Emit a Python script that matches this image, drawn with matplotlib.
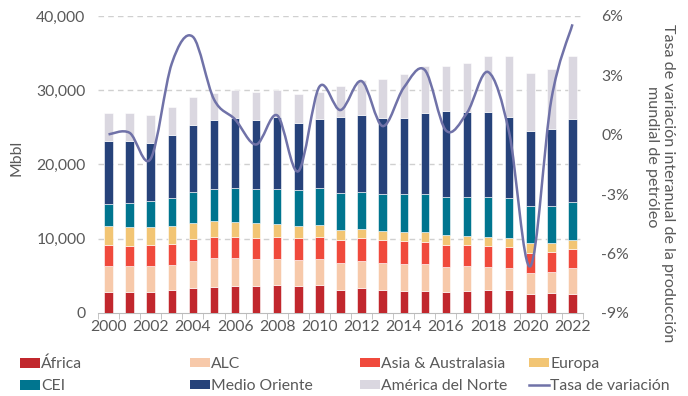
import matplotlib
matplotlib.use("Agg")
import matplotlib.pyplot as plt
import numpy as np
from matplotlib.path import Path
from matplotlib.patches import PathPatch, Patch
from matplotlib.lines import Line2D
from matplotlib.ticker import FuncFormatter

plt.rcParams['font.family'] = ['Lato', 'DejaVu Sans']
plt.rcParams['axes.unicode_minus'] = False

years = list(range(2000, 2023))
africa = [2790, 2790, 2830, 3060, 3420, 3550, 3600, 3690, 3730, 3600, 3730, 3100,
          3330, 3150, 3010, 2970, 2790, 2970, 3060, 3060, 2520, 2650, 2560]
alc = [3500, 3500, 3510, 3460, 3640, 3870, 3860, 3640, 3600, 3550, 3550, 3690,
       3680, 3640, 3600, 3590, 3410, 3320, 3190, 3050, 2920, 2880, 3460]
asia = [2830, 2790, 2830, 2830, 2870, 2870, 2830, 2830, 2870, 2920, 3010, 3010,
        3060, 3010, 3050, 3010, 2920, 2830, 2740, 2740, 2690, 2650, 2650]
europa = [2610, 2560, 2470, 2340, 2250, 2160, 2020, 1930, 1840, 1660, 1620, 1440,
          1300, 1260, 1260, 1350, 1350, 1310, 1300, 1310, 1310, 1260, 1170]
cei = [2970, 3190, 3460, 3820, 4090, 4270, 4500, 4580, 4680, 4850, 4940, 4980,
       4940, 4980, 5040, 5120, 5170, 5210, 5350, 5350, 4990, 5030, 5130]
medio = [8400, 8320, 7730, 8400, 8990, 9260, 9390, 9310, 9620, 9040, 9310, 10160,
         10390, 10250, 10330, 10880, 11510, 11370, 11460, 10920, 10060, 10290, 11100]
norte = [3820, 3770, 3820, 3780, 3820, 3640, 3780, 3730, 3680, 3820, 3590, 4140,
         4630, 5170, 5840, 6290, 6150, 6610, 7510, 8180, 7870, 8050, 8540]
tasa = [0.02, 0.1, -1.21, 3.6, 4.95, 1.79, 0.78, -0.49, 0.98, -1.84, 2.43, 1.25,
        2.71, 0.44, 2.38, 3.27, 0.22, 1.11, 3.17, 0.1, -6.64, 1.79, 5.58]

series = [
    ("África", africa, "#C1272D"),
    ("ALC", alc, "#F7C9AA"),
    ("Asia & Australasia", asia, "#F04A3C"),
    ("Europa", europa, "#F2C574"),
    ("CEI", cei, "#00758F"),
    ("Medio Oriente", medio, "#26427A"),
    ("América del Norte", norte, "#DAD7E0"),
]
line_color = "#7072A8"
text_color = "#595959"
fs = 11.3

fig = plt.figure(figsize=(6.88, 3.96), dpi=100)
ax = fig.add_axes([0.1424, 0.2096, 0.705, 0.75])
x = np.arange(len(years))
bottom = np.zeros(len(years))
for name, vals, col in series:
    ax.bar(x, vals, width=0.4, bottom=bottom, color=col, edgecolor='white', linewidth=0.4, zorder=3)
    bottom += np.array(vals)

ax.set_xlim(-0.5, len(years) - 0.5)
ax.set_ylim(0, 40000)
ax.set_yticks([0, 10000, 20000, 30000, 40000])
ax.yaxis.set_major_formatter(FuncFormatter(lambda v, p: f"{int(v):,}"))
ax.set_xticks(x[::2])
ax.set_xticklabels([str(y) for y in years[::2]])
ax.set_xticks(np.arange(-0.5, len(years)), minor=True)
ax.tick_params(axis='x', which='major', length=0, pad=5, labelsize=fs, labelcolor=text_color)
ax.tick_params(axis='x', which='minor', length=4, color='#BBBBBB')
ax.tick_params(axis='y', length=0, labelsize=fs, labelcolor=text_color, pad=9)
for s in ['top', 'left', 'right']:
    ax.spines[s].set_visible(False)
ax.spines['bottom'].set_color('#BBBBBB')
for v in [10000, 20000, 30000, 40000]:
    ax.axhline(v, color='#D0D0D0', linestyle=(0, (4, 3)), linewidth=1, zorder=1)

ax2 = ax.twinx()
ax2.set_ylim(-9, 6)
ax2.set_yticks([-9, -6, -3, 0, 3, 6])
ax2.yaxis.set_major_formatter(FuncFormatter(lambda v, p: f"{int(round(v))}%"))
ax2.tick_params(axis='y', length=0, labelsize=fs, labelcolor=text_color, pad=13)
for s in ['top', 'left', 'right', 'bottom']:
    ax2.spines[s].set_visible(False)

W, H = 688.0, 396.0
fig.text(16 / W, 1 - 158 / H, "Mbbl", rotation=90, ha='center', va='center',
         fontsize=fs, color=text_color)
fig.text(668 / W, 1 - 183 / H, "Tasa de variación interanual de la producción",
         rotation=270, ha='center', va='center', fontsize=11.6, color=text_color)
fig.text(652 / W, 1 - 157 / H, "mundial de petróleo",
         rotation=270, ha='center', va='center', fontsize=11.6, color=text_color)

# smooth line (Catmull-Rom -> Bezier)
P = np.column_stack([x.astype(float), np.array(tasa, dtype=float)])
n = len(P)
verts = [tuple(P[0])]
codes = [Path.MOVETO]
for i in range(n - 1):
    p0 = P[i - 1] if i > 0 else P[i]
    p1 = P[i]
    p2 = P[i + 1]
    p3 = P[i + 2] if i + 2 < n else P[i + 1]
    c1 = p1 + (p2 - p0) / 6.0
    c2 = p2 - (p3 - p1) / 6.0
    verts += [tuple(c1), tuple(c2), tuple(p2)]
    codes += [Path.CURVE4] * 3
ax2.add_patch(PathPatch(Path(verts, codes), facecolor='none', edgecolor=line_color, lw=1.8, zorder=5))

# legend in columns
handles = [Patch(facecolor=c, edgecolor='none') for _, _, c in series] + \
          [Line2D([0], [0], color=line_color, lw=1.8)]
labels = [s[0] for s in series] + ["Tasa de variación"]
cols = [[0, 4], [1, 5], [2, 6], [3, 7]]
xpos = [20 / W, 190 / W, 360 / W, 529 / W]
for xp, idxs in zip(xpos, cols):
    fig.legend([handles[i] for i in idxs], [labels[i] for i in idxs],
               loc='upper left', bbox_to_anchor=(xp, 1 - 357 / H), frameon=False,
               fontsize=fs, handlelength=1.25, handleheight=0.55, handletextpad=0.1,
               labelspacing=0.5, borderpad=0, borderaxespad=0, labelcolor=text_color)

fig.savefig("out.png", dpi=100)
